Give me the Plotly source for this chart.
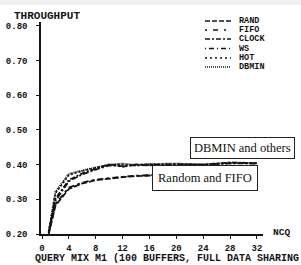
import plotly.graph_objects as go

# ---- data ----
ncq = [1, 2, 4, 6, 8, 10, 12, 14, 16, 20, 24, 28, 32]
rand_vals  = [0.200, 0.282, 0.330, 0.346, 0.355, 0.360, 0.364, 0.367, 0.369, 0.372, 0.374, 0.375, 0.374]
fifo_vals  = [0.202, 0.286, 0.334, 0.348, 0.357, 0.362, 0.365, 0.368, 0.370, 0.373, 0.375, 0.376, 0.375]
clock_vals = [0.204, 0.296, 0.352, 0.372, 0.386, 0.398, 0.396, 0.399, 0.398, 0.401, 0.399, 0.404, 0.403]
ws_vals    = [0.205, 0.302, 0.356, 0.375, 0.388, 0.401, 0.394, 0.401, 0.399, 0.400, 0.400, 0.406, 0.404]
hot_vals   = [0.206, 0.318, 0.370, 0.382, 0.391, 0.399, 0.401, 0.397, 0.401, 0.402, 0.400, 0.404, 0.405]
dbmin_vals = [0.206, 0.322, 0.374, 0.384, 0.392, 0.400, 0.403, 0.399, 0.402, 0.403, 0.401, 0.406, 0.405]

series_names = ["RAND", "FIFO", "CLOCK", "WS", "HOT", "DBMIN"]
series_vals = [rand_vals, fifo_vals, clock_vals, ws_vals, hot_vals, dbmin_vals]
dashes = ["6px,2px", "3px,3px,6px,3px", "6px,2px,2px,2px", "2px,2px,5px,2px", "2px,2px", "1px,1px"]
legend_dashes = ["5px,2px", "2px,6px,5px,6px", "5px,2px,2px,2px", "1px,3px,5px,3px", "2px,3px", "1px,1px"]

y_ticks = [0.2, 0.3, 0.4, 0.5, 0.6, 0.7, 0.8]
x_ticks = [0, 4, 8, 12, 16, 20, 24, 28, 32]

ink = "#141414"
mono = "Liberation Mono"
serif = "Liberation Serif"

fig = go.Figure()
for name, vals, d in zip(series_names, series_vals, dashes):
    fig.add_trace(go.Scatter(x=ncq, y=vals, mode="lines", name=name,
                             line=dict(color=ink, width=1.8, dash=d),
                             showlegend=False))

# plot area geometry in pixels: x 41..263, y 22..234
L, R, T, B = 41, 263, 22, 234
W, H = R - L, B - T
def px(xp): return (xp - L) / W
def py(yp): return (B - yp) / H

shapes = []
annotations = []

# light gray strip at the top of the image
shapes.append(dict(type="rect", xref="paper", yref="paper",
                   x0=px(0), x1=px(301), y0=py(5), y1=py(0),
                   fillcolor="#f1f1f1", line=dict(width=0), layer="below"))

# manual legend
leg_y = [21, 30, 39, 48.5, 58, 67]
for name, d, yy in zip(series_names, legend_dashes, leg_y):
    shapes.append(dict(type="line", xref="paper", yref="paper",
                       x0=px(205), x1=px(231), y0=py(yy), y1=py(yy),
                       line=dict(color=ink, width=1.4, dash=d)))
    annotations.append(dict(text="<b>%s</b>" % name, xref="paper", yref="paper",
                            x=px(237), y=py(yy), xanchor="left", yanchor="middle",
                            showarrow=False, font=dict(family=mono, size=8.5, color=ink)))

# axis titles
annotations.append(dict(text="<b>THROUGHPUT</b>", xref="paper", yref="paper",
                        x=px(12), y=py(16), xanchor="left", yanchor="middle",
                        showarrow=False, font=dict(family=mono, size=11, color=ink)))
annotations.append(dict(text="<b>NCQ</b>", xref="paper", yref="paper",
                        x=px(271), y=py(232), xanchor="left", yanchor="middle",
                        showarrow=False, font=dict(family=mono, size=9.5, color=ink)))
annotations.append(dict(text="<b>QUERY MIX M1 (100 BUFFERS, FULL DATA SHARING</b>",
                        xref="paper", yref="paper",
                        x=px(33), y=py(258.5), xanchor="left", yanchor="middle",
                        showarrow=False, font=dict(family=mono, size=10, color=ink)))

# boxed callouts
annotations.append(dict(text="DBMIN and others", xref="paper", yref="paper",
                        x=px(242.5), y=py(148), xanchor="center", yanchor="middle",
                        showarrow=False, bgcolor="white", bordercolor="#222", borderwidth=1,
                        borderpad=3, font=dict(family=serif, size=12.5, color="#111")))
annotations.append(dict(text="Random and FIFO", xref="paper", yref="paper",
                        x=px(205), y=py(178), xanchor="center", yanchor="middle",
                        showarrow=False, bgcolor="white", bordercolor="#222", borderwidth=1,
                        borderpad=5, font=dict(family=serif, size=12.5, color="#111")))

fig.update_layout(
    width=301, height=265,
    margin=dict(l=L, r=301 - R, t=T, b=265 - B, pad=0, autoexpand=False),
    paper_bgcolor="white", plot_bgcolor="white",
    shapes=shapes, annotations=annotations,
    showlegend=False,
)
fig.update_xaxes(range=[-0.15, 32.9], tickvals=x_ticks,
                 ticktext=["<b>%d</b>" % v for v in x_ticks],
                 showgrid=False, zeroline=False,
                 showline=True, linecolor=ink, linewidth=1.5, automargin=False,
                 ticks="outside", ticklen=3, tickcolor=ink, tickwidth=1,
                 ticklabelstandoff=1,
                 tickfont=dict(family=mono, size=9, color=ink))
fig.update_yaxes(range=[0.2, 0.8115], tickvals=y_ticks,
                 ticktext=["<b>%.2f</b>" % v for v in y_ticks], showgrid=False,
                 zeroline=False, showline=True, linecolor=ink, linewidth=1.5, automargin=False,
                 ticks="outside", ticklen=3, tickcolor=ink, tickwidth=1,
                 ticklabelstandoff=7,
                 tickfont=dict(family=mono, size=9, color=ink))

fig.write_html("out.html", config={"displayModeBar": False},
               post_script="document.body.style.margin='0';document.body.style.overflow='hidden';")
